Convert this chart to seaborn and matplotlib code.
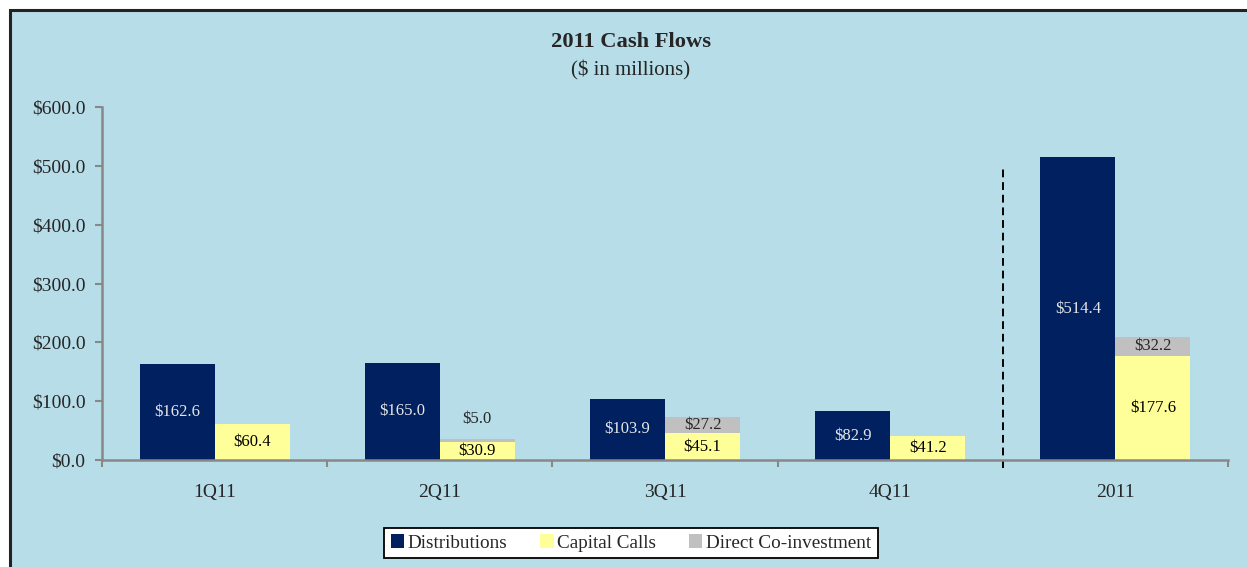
import numpy as np
import pandas as pd
import seaborn as sns
import matplotlib.pyplot as plt
from matplotlib.patches import Patch, Rectangle
from matplotlib.ticker import FuncFormatter

periods = ['1Q11', '2Q11', '3Q11', '4Q11', '2011']
distributions = [162.6, 165.0, 103.9, 82.9, 514.4]
capital_calls = [60.4, 30.9, 45.1, 41.2, 177.6]
direct_coinv = [0.0, 5.0, 27.2, 0.0, 32.2]
y_ticks = [0, 100, 200, 300, 400, 500, 600]
series_names = ['Distributions', 'Capital Calls', 'Direct Co-investment']

navy = '#002060'
yellow = '#FFFF99'
grey = '#C0C0C0'
bg = '#B7DDE8'
axis_grey = '#888888'

sns.set_style('ticks')
plt.rcParams['font.family'] = ['Liberation Serif', 'DejaVu Serif']

df = pd.DataFrame({
    'period': periods,
    'Distributions': distributions,
    'Capital Calls': capital_calls,
})
long_df = df.melt(id_vars='period', var_name='series', value_name='value')

W, H = 1247, 567
fig = plt.figure(figsize=(W / 100, H / 100), dpi=100)
fig.patch.set_facecolor('white')

# light blue panel with dark frame (right/bottom run off the image)
fig.add_artist(Rectangle((9.5 / W, -0.1), 1.1, 1 - 9.5 / H + 0.1,
                         transform=fig.transFigure, facecolor=bg,
                         edgecolor='#222222', linewidth=2.2, zorder=0))

ax = fig.add_axes([102 / W, 1 - 460 / H, (1228 - 102) / W, (460 - 107) / H])
ax.set_facecolor('none')

sns.barplot(data=long_df, x='period', y='value', hue='series',
            palette=[navy, yellow], width=2 / 3, gap=0, linewidth=0,
            saturation=1, legend=False, ax=ax)

x = np.arange(len(periods))
ax.bar(x + 1 / 6, direct_coinv, width=1 / 3, bottom=capital_calls,
       color=grey, linewidth=0)

# value labels
for i in range(len(periods)):
    d, c, v = distributions[i], capital_calls[i], direct_coinv[i]
    ax.text(i - 1 / 6, d / 2, f'${d:.1f}', ha='center', va='center',
            color='#E6E6E6', fontsize=12)
    ax.text(i + 1 / 6, c / 2, f'${c:.1f}', ha='center', va='center',
            color='black', fontsize=12)
    if v > 0:
        if v < 15:
            ax.annotate(f'${v:.1f}', (i + 1 / 6, c + v), xytext=(0, 14.5),
                        textcoords='offset points', ha='center', va='center',
                        fontsize=12)
        else:
            ax.text(i + 1 / 6, c + v / 2, f'${v:.1f}', ha='center',
                    va='center', fontsize=12)

# divider between quarters and full year
ax.plot([3.5, 3.5], [-14, 502], ls=(0, (4, 2.5)), color='black', lw=1.4,
        clip_on=False)

ax.set_xlim(-0.5, len(periods) - 0.5)
ax.set_ylim(0, 600)
ax.set_yticks(y_ticks)
ax.yaxis.set_major_formatter(FuncFormatter(lambda v, p: f'${v:.1f}'))
ax.set_xticks(x)
ax.set_xticklabels(periods)
ax.set_xticks(np.arange(-0.5, len(periods), 1), minor=True)
ax.tick_params(axis='x', which='major', length=0, pad=17, labelsize=14)
ax.tick_params(axis='x', which='minor', length=5, width=1.5, color=axis_grey)
ax.tick_params(axis='y', length=5, width=1.5, color=axis_grey, pad=7,
               labelsize=14)
ax.set_xlabel('')
ax.set_ylabel('')
for side in ['top', 'right']:
    ax.spines[side].set_visible(False)
for side in ['left', 'bottom']:
    ax.spines[side].set_color(axis_grey)
    ax.spines[side].set_linewidth(1.8)

fig.text(631 / W, 1 - 42 / H, '2011 Cash Flows', ha='center', va='center',
         fontsize=16.2, fontweight='bold')
fig.text(631 / W, 1 - 70 / H, '($ in millions)', ha='center', va='center',
         fontsize=15)

handles = [Patch(facecolor=c, edgecolor='none') for c in [navy, yellow, grey]]
leg = fig.legend(handles, series_names, loc='center',
                 bbox_to_anchor=(631 / W, 1 - 543 / H), ncol=3, fontsize=13.8,
                 frameon=True, fancybox=False, framealpha=1,
                 facecolor='white', edgecolor='black', handlelength=0.7,
                 handleheight=0.7, handletextpad=0.2, columnspacing=1.7,
                 borderpad=0.35, borderaxespad=0)
leg.get_frame().set_linewidth(1.3)

fig.savefig('out.png', dpi=100)
